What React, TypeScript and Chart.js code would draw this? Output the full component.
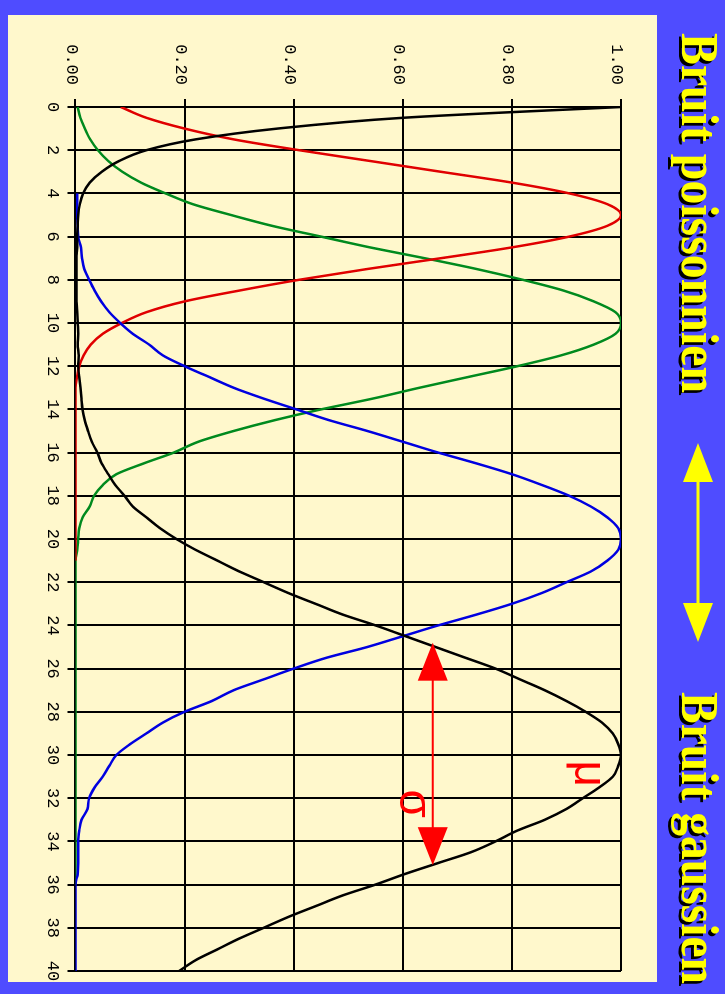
import { useEffect, useRef } from 'react';
import { Chart, registerables } from 'chart.js';

Chart.register(...registerables);

// x positions (category values) of every data point
const X = [
  0, 0.5, 1, 1.5, 2, 2.5, 3, 3.5, 4, 4.5,
  5, 5.5, 6, 6.5, 7, 7.5, 8, 8.5, 9, 9.5,
  10, 10.5, 11, 11.5, 12, 12.5, 13, 13.5, 14, 14.5,
  15, 15.5, 16, 16.5, 17, 17.5, 18, 18.5, 19, 19.5,
  20, 20.5, 21, 21.5, 22, 22.5, 23, 23.5, 24, 24.5,
  25, 25.5, 26, 26.5, 27, 27.5, 28, 28.5, 29, 29.5,
  30, 30.5, 31, 31.5, 32, 32.5, 33, 33.5, 34, 34.5,
  35, 35.5, 36, 36.5, 37, 37.5, 38, 38.5, 39, 39.5,
  40,
];

const RED = [
  0.083, 0.13, 0.2, 0.29, 0.41, 0.54, 0.67, 0.8, 0.905, 0.975,
  1.0, 0.975, 0.905, 0.8, 0.67, 0.535, 0.41, 0.3, 0.2, 0.13,
  0.085, 0.05, 0.028, 0.015, 0.007, 0.003, 0, 0, 0, 0,
  0, 0, 0, 0, 0, 0, 0, 0, 0, 0,
  0, 0, 0, null, null, null, null, null, null, null,
  null, null, null, null, null, null, null, null, null, null,
  null, null, null, null, null, null, null, null, null, null,
  null, null, null, null, null, null, null, null, null, null,
  null,
];

const GREEN = [
  0.004, 0.009, 0.017, 0.027, 0.041, 0.06, 0.086, 0.12, 0.165, 0.215,
  0.285, 0.36, 0.45, 0.54, 0.64, 0.735, 0.82, 0.895, 0.95, 0.99,
  1.0, 0.99, 0.95, 0.89, 0.81, 0.72, 0.63, 0.545, 0.45, 0.365,
  0.29, 0.225, 0.18, 0.125, 0.075, 0.05, 0.034, 0.026, 0.013, 0.007,
  0.005, 0.003, 0, 0, 0, 0, 0, 0, 0, 0,
  0, 0, 0, 0, 0, 0, 0, 0, 0, 0,
  0, 0, 0, 0, 0, 0, 0, 0, 0, 0,
  0, 0, 0, null, null, null, null, null, null, null,
  null,
];

const BLUE = [
  null, null, null, null, null, null, null, null, 0.003, 0.003,
  0.003, 0.004, 0.005, 0.01, 0.012, 0.016, 0.025, 0.035, 0.047, 0.062,
  0.082, 0.105, 0.135, 0.16, 0.2, 0.245, 0.29, 0.345, 0.405, 0.465,
  0.535, 0.6, 0.665, 0.735, 0.8, 0.855, 0.905, 0.945, 0.975, 0.995,
  1.0, 0.995, 0.975, 0.945, 0.9, 0.855, 0.8, 0.735, 0.665, 0.6,
  0.535, 0.46, 0.4, 0.345, 0.29, 0.25, 0.2, 0.16, 0.13, 0.1,
  0.075, 0.062, 0.05, 0.035, 0.025, 0.022, 0.011, 0.007, 0.005, 0.005,
  0.005, 0.004, 0, 0, 0, 0, 0, 0, 0, 0,
  0,
];

const BLACK = [
  1.0, 0.6, 0.37, 0.22, 0.13, 0.08, 0.048, 0.026, 0.014, 0.008,
  0.005, 0.004, 0.003, 0.003, 0.002, 0.002, 0.002, 0.002, 0.002, 0.003,
  0.004, 0.005, 0.004, 0.006, 0.005, 0.007, 0.009, 0.011, 0.013, 0.017,
  0.023, 0.03, 0.04, 0.048, 0.06, 0.073, 0.09, 0.105, 0.13, 0.155,
  0.185, 0.22, 0.26, 0.3, 0.345, 0.39, 0.44, 0.49, 0.55, 0.605,
  0.66, 0.715, 0.77, 0.815, 0.86, 0.9, 0.935, 0.965, 0.985, 0.995,
  1.0, 0.995, 0.985, 0.96, 0.93, 0.9, 0.86, 0.81, 0.77, 0.725,
  0.665, 0.605, 0.55, 0.49, 0.44, 0.39, 0.345, 0.3, 0.26, 0.22,
  0.19,
];

const X_TICKS = [0, 2, 4, 6, 8, 10, 12, 14, 16, 18, 20, 22, 24, 26, 28, 30, 32, 34, 36, 38, 40];
const Y_TICKS = [0, 0.2, 0.4, 0.6, 0.8, 1.0];
const Y_TICK_LABELS = ['0.00', '0.20', '0.40', '0.60', '0.80', '1.00'];

const TITLE_LEFT = 'Bruit poissonnien';
const TITLE_RIGHT = 'Bruit gaussien';
const MU = 'μ';
const SIGMA = 'σ';

function pts(vals: (number | null)[]) {
  return X.map((x, i) => ({ x, y: vals[i] })).filter((p) => p.y !== null) as { x: number; y: number }[];
}

function doubleArrow(
  ctx: CanvasRenderingContext2D,
  x1: number,
  x2: number,
  yc: number,
  headLen: number,
  headHalf: number,
  shaftW: number,
  color: string
) {
  ctx.save();
  ctx.strokeStyle = color;
  ctx.fillStyle = color;
  ctx.lineWidth = shaftW;
  ctx.beginPath();
  ctx.moveTo(x1 + headLen - 1, yc);
  ctx.lineTo(x2 - headLen + 1, yc);
  ctx.stroke();
  ctx.beginPath();
  ctx.moveTo(x1, yc);
  ctx.lineTo(x1 + headLen, yc - headHalf);
  ctx.lineTo(x1 + headLen, yc + headHalf);
  ctx.closePath();
  ctx.fill();
  ctx.beginPath();
  ctx.moveTo(x2, yc);
  ctx.lineTo(x2 - headLen, yc - headHalf);
  ctx.lineTo(x2 - headLen, yc + headHalf);
  ctx.closePath();
  ctx.fill();
  ctx.restore();
}

function shadowText(ctx: CanvasRenderingContext2D, text: string, left: number, baseline: number, width: number) {
  ctx.save();
  ctx.font = 'bold 52px "Liberation Serif", "Times New Roman", serif';
  ctx.textAlign = 'left';
  ctx.textBaseline = 'alphabetic';
  const w = ctx.measureText(text).width;
  ctx.translate(left, baseline);
  ctx.scale(width / w, 1);
  ctx.fillStyle = '#000000';
  ctx.fillText(text, 3, 3);
  ctx.fillStyle = '#ffff00';
  ctx.fillText(text, 0, 0);
  ctx.restore();
}

const decorPlugin = {
  id: 'decor',
  beforeDraw(chart: any) {
    const ctx: CanvasRenderingContext2D = chart.ctx;
    ctx.save();
    ctx.fillStyle = '#4f4cff';
    ctx.fillRect(0, 0, chart.width, chart.height);
    ctx.fillStyle = '#fff8cc';
    ctx.fillRect(15, 68, 967, 649);
    ctx.restore();
  },
  afterDatasetsDraw(chart: any) {
    const ctx: CanvasRenderingContext2D = chart.ctx;
    const xs = chart.scales.x;
    const ys = chart.scales.y;
    // sigma arrow
    doubleArrow(ctx, xs.getPixelForValue(24.8), xs.getPixelForValue(35.1), ys.getPixelForValue(0.655), 38, 15, 2, '#ff0000');
    ctx.save();
    ctx.fillStyle = '#ff0000';
    ctx.font = '46px "Liberation Sans", Arial, sans-serif';
    ctx.textAlign = 'center';
    ctx.textBaseline = 'alphabetic';
    ctx.fillText(MU, xs.getPixelForValue(30.87), ys.getPixelForValue(0.915));
    ctx.fillText(SIGMA, xs.getPixelForValue(32.26), ys.getPixelForValue(0.595));
    ctx.restore();
    // title
    shadowText(ctx, TITLE_LEFT, 33, 43, 360);
    shadowText(ctx, TITLE_RIGHT, 692, 43, 292);
    doubleArrow(ctx, 443, 642, 27, 39, 15, 3, '#ffff00');
  },
};

export default function App() {
  const ref = useRef<HTMLCanvasElement | null>(null);

  useEffect(() => {
    if (!ref.current) return;
    const tickFont = { family: '"Liberation Mono", "DejaVu Sans Mono", monospace', size: 17 };
    const line = (data: any, color: string) => ({
      data,
      borderColor: color,
      backgroundColor: color,
      borderWidth: 2.5,
      pointRadius: 0,
      fill: false,
      cubicInterpolationMode: 'monotone' as const,
    });
    const chart = new Chart(ref.current, {
      type: 'line',
      data: {
        datasets: [
          line(pts(BLACK), '#000000'),
          line(pts(BLUE), '#0000e0'),
          line(pts(RED), '#e00000'),
          line(pts(GREEN), '#008a1e'),
        ],
      },
      plugins: [decorPlugin],
      options: {
        animation: false,
        responsive: false,
        devicePixelRatio: 1,
        layout: { padding: { left: 0, top: 104, right: 23, bottom: 0 } },
        plugins: { legend: { display: false }, tooltip: { enabled: false }, title: { display: false } },
        scales: {
          x: {
            type: 'linear',
            min: 0,
            max: 40,
            afterBuildTicks: (s: any) => {
              s.ticks = X_TICKS.map((v) => ({ value: v }));
            },
            afterFit: (s: any) => {
              s.height = 75.5;
            },
            ticks: {
              font: tickFont,
              color: '#000000',
              padding: 5,
              maxRotation: 0,
              autoSkip: false,
              callback: (v: any) => String(v),
            },
            grid: { color: '#000000', lineWidth: 2, tickLength: 8, tickColor: '#000000', tickWidth: 2 },
            border: { color: '#000000', width: 2 },
          },
          y: {
            type: 'linear',
            min: 0,
            max: 1,
            afterBuildTicks: (s: any) => {
              s.ticks = Y_TICKS.map((v) => ({ value: v }));
            },
            afterFit: (s: any) => {
              s.width = 107;
            },
            ticks: {
              font: tickFont,
              color: '#000000',
              padding: 14,
              labelOffset: 4,
              autoSkip: false,
              callback: (_v: any, i: number) => Y_TICK_LABELS[i],
            },
            grid: { color: '#000000', lineWidth: 2, tickLength: 8, tickColor: '#000000', tickWidth: 2 },
            border: { color: '#000000', width: 2 },
          },
        },
      },
    } as any);
    return () => chart.destroy();
  }, []);

  return (
    <div style={{ position: 'fixed', left: 0, top: 0, width: 725, height: 994, overflow: 'hidden', background: '#4f4cff' }}>
      <canvas
        ref={ref}
        width={994}
        height={725}
        style={{
          position: 'absolute',
          left: 0,
          top: 0,
          width: '994px',
          height: '725px',
          transformOrigin: '0 0',
          transform: 'translate(725px, 0px) rotate(90deg)',
        }}
      />
    </div>
  );
}
